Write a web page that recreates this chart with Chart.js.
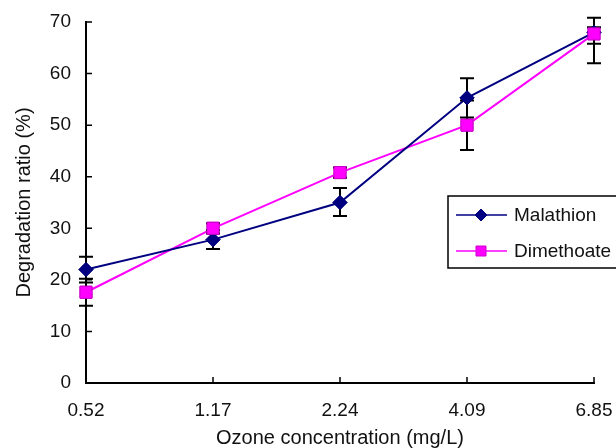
<!DOCTYPE html>
<html>
<head>
<meta charset="utf-8">
<script src="https://cdn.jsdelivr.net/npm/chart.js@4.4.1/dist/chart.umd.min.js"></script>
<style>
  html, body { margin: 0; padding: 0; background: #fff; }
  #wrap { width: 616px; height: 448px; position: relative; }
</style>
</head>
<body>
<div id="wrap"><canvas id="chart" width="616" height="448"></canvas></div>
<script>
const concentrations = ['0.52', '1.17', '2.24', '4.09', '6.85'];
const malathion = [22.0, 27.8, 35.0, 55.3, 68.0];
const malathionErrLow = [2.5, 1.8, 2.6, 3.8, 2.2];
const malathionErrHigh = [2.5, 1.8, 2.8, 3.8, 2.8];
const dimethoate = [17.6, 30.0, 40.8, 50.0, 67.7];
const dimethoateErrLow = [2.6, 1.0, 1.0, 4.8, 5.7];
const dimethoateErrHigh = [2.6, 1.0, 1.0, 4.8, 1.3];

const FONT = 'Liberation Sans, Arial, sans-serif';

// error bars + inward axis ticks + framed legend
const extras = {
    id: 'extras',
    afterDatasetsDraw(chart) {
        const ctx = chart.ctx;
        const x = chart.scales.x, y = chart.scales.y;
        ctx.save();
        ctx.strokeStyle = '#000';
        ctx.lineWidth = 2;
        chart.data.datasets.forEach(ds => {
            ds.data.forEach((v, i) => {
                const px = x.getPixelForValue(i);
                const top = y.getPixelForValue(v + ds.errHigh[i]);
                const bot = y.getPixelForValue(v - ds.errLow[i]);
                ctx.beginPath();
                ctx.moveTo(px, top); ctx.lineTo(px, bot);
                ctx.moveTo(px - 7, top); ctx.lineTo(px + 7, top);
                ctx.moveTo(px - 7, bot); ctx.lineTo(px + 7, bot);
                ctx.stroke();
            });
        });
        ctx.restore();
        // redraw the points over the bars
        chart.data.datasets.forEach((ds, di) => {
            chart.getDatasetMeta(di).data.forEach(pt => pt.draw(ctx));
        });
    },
    afterDraw(chart) {
        const ctx = chart.ctx;
        const x = chart.scales.x, y = chart.scales.y;
        const area = chart.chartArea;
        ctx.save();
        ctx.strokeStyle = '#000';
        ctx.lineWidth = 1.5;
        ctx.beginPath();
        x.ticks.forEach((t, i) => {
            const px = x.getPixelForTick(i);
            ctx.moveTo(px, area.bottom); ctx.lineTo(px, area.bottom - 6);
        });
        y.ticks.forEach((t, i) => {
            const py = y.getPixelForTick(i);
            ctx.moveTo(area.left, py); ctx.lineTo(area.left + 6, py);
        });
        ctx.stroke();

        // legend box
        const lx = 448, ly = 196, lw = 180, lh = 72;
        ctx.fillStyle = '#fff';
        ctx.fillRect(lx, ly, lw, lh);
        ctx.lineWidth = 1.5;
        ctx.strokeRect(lx, ly, lw, lh);
        ctx.font = '19px ' + FONT;
        ctx.textBaseline = 'middle';
        chart.data.datasets.forEach((ds, di) => {
            const rowY = ly + 19 + di * 36;
            ctx.strokeStyle = ds.borderColor;
            ctx.lineWidth = 1.5;
            ctx.beginPath();
            ctx.moveTo(lx + 8, rowY); ctx.lineTo(lx + 59, rowY);
            ctx.stroke();
            ctx.fillStyle = ds.pointBackgroundColor;
            ctx.strokeStyle = ds.pointBorderColor;
            ctx.lineWidth = 1;
            ctx.beginPath();
            if (ds.pointStyle === 'rect') {
                ctx.rect(lx + 33 - 5, rowY - 5, 10, 10);
            } else {
                ctx.moveTo(lx + 33, rowY - 6); ctx.lineTo(lx + 39, rowY);
                ctx.lineTo(lx + 33, rowY + 6); ctx.lineTo(lx + 27, rowY);
                ctx.closePath();
            }
            ctx.fill(); ctx.stroke();
            ctx.fillStyle = '#111';
            ctx.fillText(ds.label, lx + 66, rowY + 1);
        });
        ctx.restore();
    }
};

new Chart(document.getElementById('chart'), {
    type: 'line',
    data: {
        labels: concentrations,
        datasets: [
            {
                label: 'Malathion',
                data: malathion,
                errLow: malathionErrLow,
                errHigh: malathionErrHigh,
                borderColor: '#000080',
                borderWidth: 2,
                pointStyle: 'rectRot',
                pointRadius: 7,
                pointBackgroundColor: '#000080',
                pointBorderColor: '#000080',
                pointBorderWidth: 1
            },
            {
                label: 'Dimethoate',
                data: dimethoate,
                errLow: dimethoateErrLow,
                errHigh: dimethoateErrHigh,
                borderColor: '#ff00ff',
                borderWidth: 2,
                pointStyle: 'rect',
                pointRadius: 8.5,
                pointBackgroundColor: '#ff00ff',
                pointBorderColor: '#cc00cc',
                pointBorderWidth: 1
            }
        ]
    },
    options: {
        responsive: false,
        animation: false,
        layout: { padding: { top: 22, right: 22, left: 0, bottom: 0 } },
        plugins: {
            legend: { display: false },
            tooltip: { enabled: false }
        },
        elements: { line: { tension: 0 } },
        scales: {
            x: {
                offset: false,
                grid: { display: false },
                border: { display: true, color: '#000', width: 2 },
                ticks: { color: '#111', font: { family: FONT, size: 19 }, padding: 8, maxRotation: 0 },
                title: { display: true, text: 'Ozone concentration (mg/L)', color: '#111',
                         font: { family: FONT, size: 20 }, padding: { top: 2, bottom: -2 } },
                afterFit(scale) {
                    scale.height = 65;
                    scale.paddingLeft = 0;
                    scale.paddingRight = 0;
                }
            },
            y: {
                min: 0,
                max: 70,
                grid: { display: false },
                border: { display: true, color: '#000', width: 2 },
                ticks: { stepSize: 10, color: '#111', font: { family: FONT, size: 19 }, padding: 7 },
                title: { display: true, text: 'Degradation ratio (%)', color: '#111',
                          font: { family: FONT, size: 20 }, padding: { top: 12, bottom: 0 } },
                afterFit(scale) {
                    scale.width = 86;
                    scale.paddingTop = 0;
                    scale.paddingBottom = 0;
                }
            }
        }
    },
    plugins: [extras]
});
</script>
</body>
</html>
